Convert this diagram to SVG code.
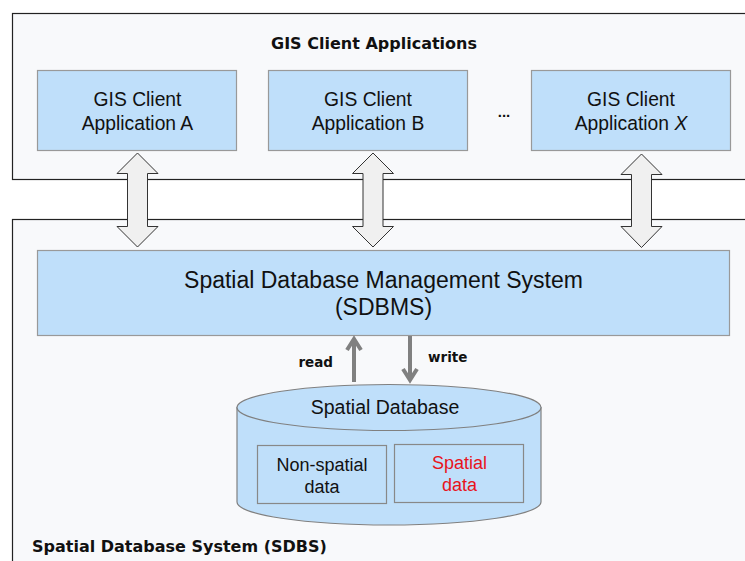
<svg xmlns="http://www.w3.org/2000/svg" width="745" height="561" viewBox="0 0 745 561">
<style>
.outer{fill:#f8f9fb;stroke:#222;stroke-width:1.2}
.box{fill:#bfdffa;stroke:#999;stroke-width:1.2}
.inner{fill:#bfdffa;stroke:#888;stroke-width:1.2}
.dbl{fill:#f0f0f0;stroke:#333;stroke-width:1}
.rw{fill:none;stroke:#808080;stroke-width:4;stroke-linejoin:miter}
.t{font-family:"Liberation Sans",Arial,sans-serif;fill:#111;text-anchor:middle}
.b{font-family:"DejaVu Sans",Verdana,sans-serif;font-weight:bold;fill:#111}
</style>
<rect width="745" height="561" fill="#ffffff"/>
<g id="client-area">
<rect class="outer" x="12.5" y="13.5" width="745" height="166"/>
<text class="b" x="374" y="49" font-size="16" text-anchor="middle">GIS Client Applications</text>
</g>
<g id="sdbs-area">
<rect class="outer" x="12.5" y="219.5" width="745" height="360"/>
<text class="b" x="32" y="552" font-size="16">Spatial Database System (SDBS)</text>
</g>
<g id="client-a">
<rect class="box" x="37.5" y="70.5" width="199" height="80"/>
<text class="t" x="137.5" y="106" font-size="19.3">GIS Client</text>
<text class="t" x="137.5" y="130" font-size="19.3">Application A</text>
</g>
<g id="client-b">
<rect class="box" x="268.5" y="70.5" width="199" height="80"/>
<text class="t" x="368" y="106" font-size="19.3">GIS Client</text>
<text class="t" x="368" y="130" font-size="19.3">Application B</text>
</g>
<g id="ellipsis">
<text class="t" x="504" y="117" font-size="15" font-weight="bold">...</text>
</g>
<g id="client-x">
<rect class="box" x="531.5" y="70.5" width="199" height="80"/>
<text class="t" x="631" y="106" font-size="19.3">GIS Client</text>
<text class="t" x="631" y="130" font-size="19.3">Application <tspan font-style="italic">X</tspan></text>
</g>
<g id="sdbms">
<rect class="box" x="37.5" y="250.5" width="692" height="85"/>
<text class="t" x="383.5" y="288" font-size="23">Spatial Database Management System</text>
<text class="t" x="383.5" y="315" font-size="23">(SDBMS)</text>
</g>
<g id="spatial-database">
<path d="M237,407.5 L237,502 A152,23 0 0,0 541,502 L541,407.5 Z" fill="#bfdffa" stroke="#808080" stroke-width="1.2"/>
<ellipse cx="389" cy="407.5" rx="152" ry="23" fill="#bfdffa" stroke="#808080" stroke-width="1.2"/>
<text class="t" x="385" y="414" font-size="19.5">Spatial Database</text>
</g>
<g id="non-spatial-data">
<rect class="inner" x="257.5" y="445.5" width="129" height="58"/>
<text class="t" x="322" y="471" font-size="18">Non-spatial</text>
<text class="t" x="322" y="493" font-size="18">data</text>
</g>
<g id="spatial-data">
<rect class="inner" x="394.5" y="444.5" width="129" height="58"/>
<text class="t" x="459.5" y="469" font-size="18" style="fill:#e8141c">Spatial</text>
<text class="t" x="459.5" y="491" font-size="18" style="fill:#e8141c">data</text>
</g>
<g id="connectors">
<polygon class="dbl" points="137.5,153 158,173.5 147.5,173.5 147.5,226.5 158,226.5 137.5,247 117,226.5 127.5,226.5 127.5,173.5 117,173.5"/>
<polygon class="dbl" points="373,153 393.5,173.5 383,173.5 383,226.5 393.5,226.5 373,247 352.5,226.5 363,226.5 363,173.5 352.5,173.5"/>
<polygon class="dbl" points="641.5,154 662,174.5 651.5,174.5 651.5,226.5 662,226.5 641.5,247.5 621,226.5 631.5,226.5 631.5,174.5 621,174.5"/>
<line class="rw" x1="354" y1="382" x2="354" y2="339"/>
<polyline class="rw" points="347,350 354,339 361,350"/>
<line class="rw" x1="410" y1="336" x2="410" y2="380"/>
<polyline class="rw" points="403,369 410,380 417,369"/>
<text class="b" x="333" y="367" font-size="13.5" text-anchor="end">read</text>
<text class="b" x="428" y="362" font-size="13.5">write</text>
</g>
</svg>
